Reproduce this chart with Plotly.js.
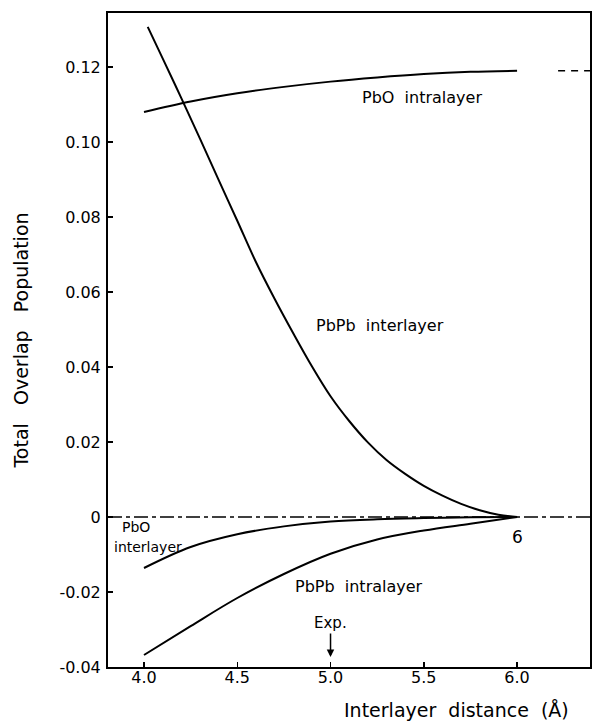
<!DOCTYPE html>
<html>
<head>
<meta charset="utf-8">
<script src="https://cdn.plot.ly/plotly-3.0.1.min.js"></script>
<style>html,body{margin:0;padding:0;background:#fff;}#chart{width:592px;height:724px;}</style>
</head>
<body>
<div id="chart"></div>
<script>
// Data
const pboIntraX = [4.0, 4.25, 4.5, 4.75, 5.0, 5.25, 5.5, 5.75, 6.0];
const pboIntraY = [0.1080, 0.1108, 0.1130, 0.1147, 0.1161, 0.1172, 0.1181, 0.1187, 0.1190];

const pbpbInterX = [4.02, 4.1, 4.2, 4.3, 4.4, 4.5, 4.6, 4.7, 4.8, 4.9, 5.0, 5.1, 5.2, 5.3, 5.4, 5.5, 5.6, 5.7, 5.8, 5.9, 6.0];
const pbpbInterY = [0.1307, 0.1223, 0.1117, 0.1009, 0.0899, 0.0790, 0.0680, 0.0582, 0.0490, 0.0402, 0.0322, 0.0256, 0.0199, 0.0152, 0.0115, 0.0083, 0.0057, 0.0035, 0.0018, 0.0006, 0.0];

const pboInterX = [4.0, 4.25, 4.5, 4.75, 5.0, 5.25, 5.5, 5.75, 6.0];
const pboInterY = [-0.0136, -0.0080, -0.0046, -0.0025, -0.0012, -0.0006, -0.0003, -0.0001, 0.0];

const pbpbIntraX = [4.0, 4.25, 4.5, 4.75, 5.0, 5.25, 5.5, 5.75, 6.0];
const pbpbIntraY = [-0.0368, -0.0291, -0.0216, -0.0152, -0.0098, -0.0060, -0.0036, -0.0018, 0.0];

const zeroLineX = [3.807, 6.391];
const zeroLineY = [0, 0];
const refLineX = [6.22, 6.391];
const refLineY = [0.119, 0.119];

const yTickVals = [0.12, 0.10, 0.08, 0.06, 0.04, 0.02, 0, -0.02, -0.04];
const yTickText = ['0.12', '0.10', '0.08', '0.06', '0.04', '0.02', '0', '-0.02', '-0.04'];
const xTickVals = [4.0, 4.5, 5.0, 5.5, 6.0];
const xTickText = ['4.0', '4.5', '5.0', '5.5', '6.0'];

const FONT = 'DejaVu Sans, sans-serif';
const line = {color: '#000', width: 2, shape: 'spline', smoothing: 1};

const traces = [
  {x: zeroLineX, y: zeroLineY, mode: 'lines', line: {color: '#000', width: 1.5, dash: '14px,4px,4px,4px'}, hoverinfo: 'skip'},
  {x: refLineX, y: refLineY, mode: 'lines', line: {color: '#000', width: 1.5, dash: '7px,6px'}, hoverinfo: 'skip'},
  {x: pboIntraX, y: pboIntraY, mode: 'lines', line: line},
  {x: pbpbInterX, y: pbpbInterY, mode: 'lines', line: line},
  {x: pboInterX, y: pboInterY, mode: 'lines', line: line},
  {x: pbpbIntraX, y: pbpbIntraY, mode: 'lines', line: line}
];

const annFont = {family: FONT, size: 16, color: '#000'};
const smallFont = {family: FONT, size: 14, color: '#000'};
const layout = {
  width: 592, height: 724,
  margin: {l: 108, r: 2, t: 13, b: 57},
  paper_bgcolor: '#fff', plot_bgcolor: '#fff',
  showlegend: false,
  font: {family: FONT, color: '#000'},
  xaxis: {
    range: [3.807, 6.391],
    tickvals: xTickVals, ticktext: xTickText,
    ticks: 'inside', ticklen: 5, tickwidth: 1.5, tickcolor: '#000',
    showline: true, linewidth: 2, linecolor: '#000', mirror: true,
    showgrid: false, zeroline: false,
    tickfont: {family: FONT, size: 16, color: '#000'},
    ticklabelstandoff: -5
  },
  yaxis: {
    range: [-0.04, 0.1344],
    tickvals: yTickVals, ticktext: yTickText,
    ticks: 'inside', ticklen: 5, tickwidth: 1.5, tickcolor: '#000',
    showline: true, linewidth: 2, linecolor: '#000', mirror: true,
    showgrid: false, zeroline: false,
    tickfont: {family: FONT, size: 16, color: '#000'},
    ticklabelstandoff: 2,
    title: {text: 'Total   Overlap   Population', font: {family: FONT, size: 19, color: '#000'}, standoff: 26}
  },
  annotations: [
    {x: 5.49, y: 0.1120, text: 'PbO  intralayer', showarrow: false, font: annFont},
    {x: 5.264, y: 0.0512, text: 'PbPb  interlayer', showarrow: false, font: annFont},
    {x: 3.872, y: -0.0027, text: 'PbO', showarrow: false, font: smallFont, xanchor: 'left'},
    {x: 3.828, y: -0.0080, text: 'interlayer', showarrow: false, font: smallFont, xanchor: 'left'},
    {x: 5.153, y: -0.0185, text: 'PbPb  intralayer', showarrow: false, font: annFont},
    {x: 6.0, y: -0.0053, text: '6', showarrow: false, font: {family: FONT, size: 17, color: '#000'}},
    {x: 5.0, y: -0.0373, text: 'Exp.', showarrow: true, arrowhead: 2, arrowsize: 1, arrowwidth: 1.5, arrowcolor: '#000', ax: 0, ay: -34, font: {family: FONT, size: 15, color: '#000'}},
    {xref: 'paper', yref: 'paper', x: 0.724, y: -0.0657, yanchor: 'middle', xanchor: 'center', showarrow: false,
     text: 'Interlayer  distance  (Å)', font: {family: FONT, size: 19, color: '#000'}}
  ]
};

Plotly.newPlot('chart', traces, layout, {displayModeBar: false, staticPlot: true});
</script>
</body>
</html>
